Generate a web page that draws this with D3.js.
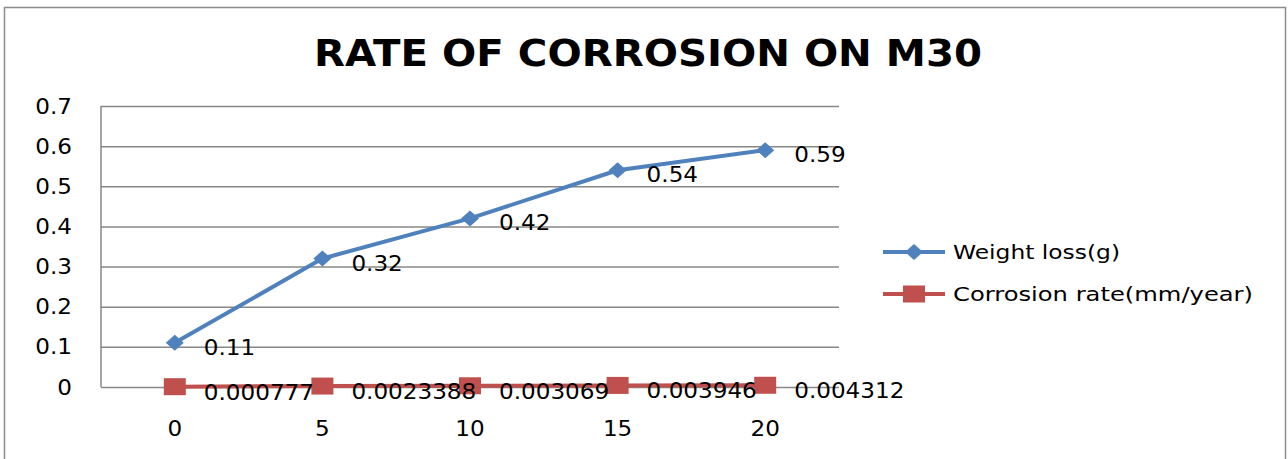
<!DOCTYPE html>
<html>
<head>
<meta charset="utf-8">
<script src="https://cdn.jsdelivr.net/npm/d3@7"></script>
<style>
  html, body { margin: 0; padding: 0; background: #fff; }
  svg { display: block; }
  text { font-family: "DejaVu Sans", Verdana, sans-serif; fill: #000; }
</style>
</head>
<body>
<div id="chart"></div>
<script>
// ---- data ----
const categories = ["0", "5", "10", "15", "20"];
const weightLoss = [0.11, 0.32, 0.42, 0.54, 0.59];
const corrosionRate = [0.000777, 0.0023388, 0.003069, 0.003946, 0.004312];
const weightLossLabels = ["0.11", "0.32", "0.42", "0.54", "0.59"];
const corrosionRateLabels = ["0.000777", "0.0023388", "0.003069", "0.003946", "0.004312"];
const yTicks = [0, 0.1, 0.2, 0.3, 0.4, 0.5, 0.6, 0.7];
const yTickLabels = ["0", "0.1", "0.2", "0.3", "0.4", "0.5", "0.6", "0.7"];
const seriesNames = ["Weight loss(g)", "Corrosion rate(mm/year)"];
const titleText = "RATE OF CORROSION ON M30";

// ---- layout ----
const W = 1288, H = 459;
const plot = { left: 101, right: 839, top: 106, bottom: 387 };
const SX = 1.1; // horizontal stretch of the text
const blue = "#4F81BD", red = "#C0504D", grid = "#878787";

const svg = d3.select("#chart").append("svg").attr("width", W).attr("height", H);

// outer frame
svg.append("rect").attr("x", 4.5).attr("y", 7.5).attr("width", 1281).attr("height", 470)
  .attr("fill", "none").attr("stroke", "#8c8c8c").attr("stroke-width", 1.5);

const x = d3.scaleBand().domain(categories).range([plot.left, plot.right]);
const xc = c => x(c) + x.bandwidth() / 2;
const y = d3.scaleLinear().domain([0, 0.7]).range([plot.bottom, plot.top]);

function stretchedText(g, tx, ty, str, size, anchor, weight) {
  return g.append("text")
    .attr("transform", `translate(${tx},${ty}) scale(${SX},1)`)
    .attr("text-anchor", anchor || "start")
    .attr("font-size", size)
    .attr("font-weight", weight || "normal")
    .text(str);
}

// gridlines via axis
const yAxis = d3.axisLeft(y).tickValues(yTicks)
  .tickSize(-(plot.right - plot.left)).tickFormat("");
const ga = svg.append("g").attr("transform", `translate(${plot.left},0)`).call(yAxis);
ga.select(".domain").remove();
ga.selectAll(".tick line").attr("stroke", grid).attr("stroke-width", 1.5);
// left axis line
svg.append("line").attr("x1", plot.left).attr("x2", plot.left)
  .attr("y1", plot.top).attr("y2", plot.bottom)
  .attr("stroke", grid).attr("stroke-width", 1.5);

// y tick labels
const gy = svg.append("g");
yTicks.forEach((v, i) => stretchedText(gy, 72, y(v) + 7.5, yTickLabels[i], 21, "end"));

// x tick labels
const gx = svg.append("g");
categories.forEach(c => stretchedText(gx, xc(c), 436, c, 21, "middle"));

// title
svg.append("text").attr("x", 648).attr("y", 66)
  .attr("text-anchor", "middle").attr("font-size", 37).attr("font-weight", "bold")
  .attr("textLength", 668).attr("lengthAdjust", "spacingAndGlyphs")
  .text(titleText);

// lines
const line = d3.line().x((d, i) => xc(categories[i])).y(d => y(d));
svg.append("path").datum(weightLoss).attr("d", line)
  .attr("fill", "none").attr("stroke", blue).attr("stroke-width", 4).attr("stroke-linejoin", "round");
svg.append("path").datum(corrosionRate).attr("d", line)
  .attr("fill", "none").attr("stroke", red).attr("stroke-width", 4);

// markers
const diamond = (cx, cy) => `M${cx},${cy - 8}L${cx + 9},${cy}L${cx},${cy + 8}L${cx - 9},${cy}Z`;
svg.append("g").selectAll("path").data(weightLoss).join("path")
  .attr("d", (d, i) => diamond(xc(categories[i]), y(d)))
  .attr("fill", blue);
svg.append("g").selectAll("rect").data(corrosionRate).join("rect")
  .attr("x", (d, i) => xc(categories[i]) - 11).attr("y", d => y(d) - 8.5)
  .attr("width", 22).attr("height", 17).attr("fill", red);

// data labels
const gl = svg.append("g");
weightLoss.forEach((v, i) => stretchedText(gl, xc(categories[i]) + 29, y(v) + 12, weightLossLabels[i], 21));
corrosionRate.forEach((v, i) => stretchedText(gl, xc(categories[i]) + 29, y(v) + 13, corrosionRateLabels[i], 21));

// legend
const lg = svg.append("g");
const legendY = [252, 294];
const legendW = [167, 300];
const colors = [blue, red];
seriesNames.forEach((name, i) => {
  lg.append("line").attr("x1", 883).attr("x2", 945).attr("y1", legendY[i]).attr("y2", legendY[i])
    .attr("stroke", colors[i]).attr("stroke-width", 4);
  if (i === 0) lg.append("path").attr("d", diamond(914, legendY[i])).attr("fill", blue);
  else lg.append("rect").attr("x", 903).attr("y", legendY[i] - 8.5).attr("width", 22).attr("height", 17).attr("fill", red);
  lg.append("text").attr("x", 953).attr("y", legendY[i] + 7)
    .attr("font-size", 20)
    .attr("textLength", legendW[i]).attr("lengthAdjust", "spacingAndGlyphs")
    .text(name);
});
</script>
</body>
</html>
